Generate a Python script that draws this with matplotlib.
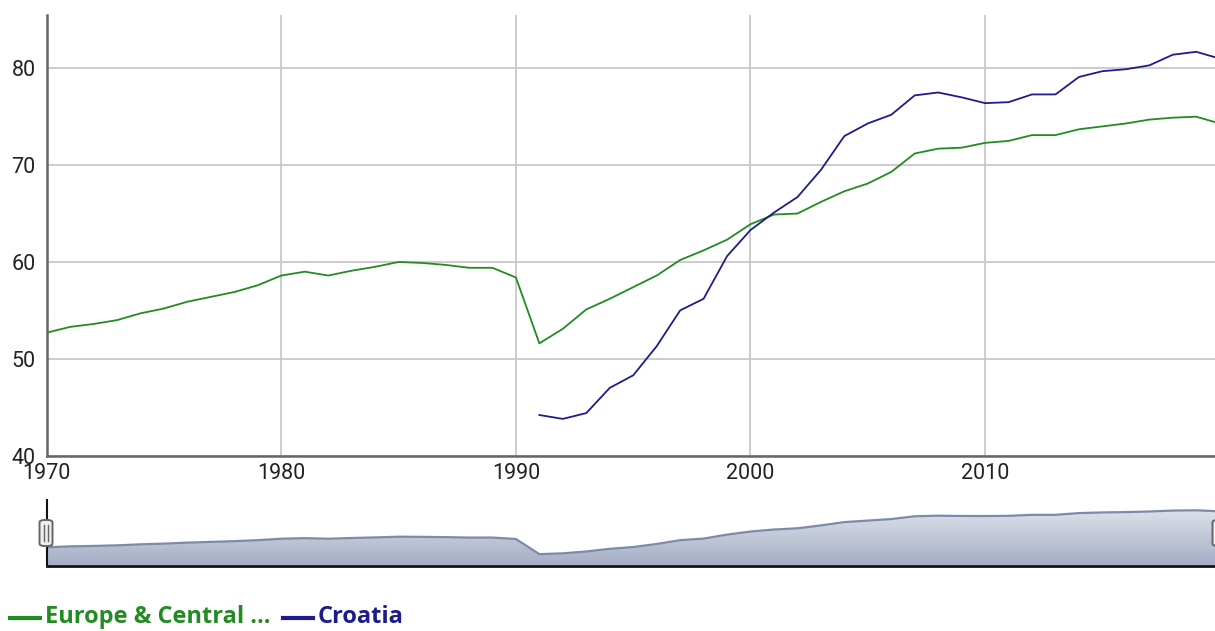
import numpy as np
import matplotlib
matplotlib.use("Agg")
import matplotlib.pyplot as plt
from matplotlib.lines import Line2D
from matplotlib.patches import FancyBboxPatch
from matplotlib.colors import LinearSegmentedColormap

# ---------------- data ----------------
years_eu = list(range(1970, 2021))
europe = [52.7, 53.3, 53.6, 54.0, 54.7, 55.2, 55.9, 56.4, 56.9, 57.6,
          58.6, 59.0, 58.6, 59.1, 59.5, 60.0, 59.9, 59.7, 59.4, 59.4,
          58.4, 51.6, 53.1, 55.1, 56.2, 57.4, 58.6, 60.2, 61.2, 62.3,
          63.9, 64.9, 65.0, 66.2, 67.3, 68.1, 69.3, 71.2, 71.7, 71.8,
          72.3, 72.5, 73.1, 73.1, 73.7, 74.0, 74.3, 74.7, 74.9, 75.0,
          74.3]
years_hr = list(range(1991, 2021))
croatia = [44.2, 43.8, 44.4, 47.0, 48.3, 51.3, 55.0, 56.2, 60.6,
           63.3, 65.1, 66.7, 69.5, 73.0, 74.3, 75.2, 77.2, 77.5, 77.0,
           76.4, 76.5, 77.3, 77.3, 79.1, 79.7, 79.9, 80.3, 81.4, 81.7,
           81.0]
x_ticks = [1970, 1980, 1990, 2000, 2010]
y_ticks = [40, 50, 60, 70, 80]
legend_labels = ["Europe & Central ...", "Croatia"]

GREEN = "#228b22"
NAVY = "#1c1c8e"

W, H = 1215, 631
fig = plt.figure(figsize=(W / 100, H / 100), dpi=100)

def fx(px):
    return px / W

def fy(py):
    return 1 - py / H

XMIN, XMAX = 1970, 2019.8
YMIN, YMAX = 40, 85.5

# ---------------- main axes ----------------
left, right, top, bottom = 46.7, 1215, 15, 455.7
ax = fig.add_axes([fx(left), fy(bottom), fx(right - left), (bottom - top) / H])
ax.plot(years_eu, europe, color=GREEN, lw=1.3, zorder=3, clip_on=True)
ax.plot(years_hr, croatia, color=NAVY, lw=1.3, zorder=3, clip_on=True)
ax.set_xlim(XMIN, XMAX)
ax.set_ylim(YMIN, YMAX)
ax.set_xticks(x_ticks)
ax.set_yticks(y_ticks)
ax.set_xticklabels([str(t) for t in x_ticks])
ax.set_yticklabels([str(t) for t in y_ticks])
ax.grid(True, color="#c8c8c8", lw=1.3, zorder=0)
ax.set_axisbelow(True)
for s in ["top", "right"]:
    ax.spines[s].set_visible(False)
for s in ["left", "bottom"]:
    ax.spines[s].set_color("#666666")
    ax.spines[s].set_linewidth(1.8)
ax.tick_params(axis="both", length=0, labelsize=15.5, labelcolor="#222222")
ax.tick_params(axis="x", pad=5)
ax.tick_params(axis="y", pad=8)
for lab in ax.get_xticklabels() + ax.get_yticklabels():
    lab.set_family(["Roboto", "DejaVu Sans"])

# ---------------- navigator ----------------
ntop, nbottom = 500, 565.5
nav = fig.add_axes([fx(left), fy(nbottom), fx(right - left), (nbottom - ntop) / H])
nav_years = np.array(years_eu, dtype=float)
eu_arr = np.array(europe, dtype=float)
hr_full = np.full(len(years_eu), np.nan)
for y, v in zip(years_hr, croatia):
    hr_full[years_eu.index(y)] = v
nav_vals = np.nanmean(np.vstack([eu_arr, hr_full]), axis=0)

nav.set_xlim(XMIN, XMAX)
nav.set_ylim(YMIN, YMAX)
poly = nav.fill_between(nav_years, YMIN, nav_vals, color="none", lw=0)
cmap = LinearSegmentedColormap.from_list("g", ["#a4aec4", "#e8eaf0"])
grad = np.linspace(0, 1, 256).reshape(-1, 1)
im = nav.imshow(grad, extent=[XMIN, 2021, YMIN, YMAX], origin="lower",
                cmap=cmap, aspect="auto", zorder=1)
paths = poly.get_paths()
im.set_clip_path(paths[0], transform=nav.transData)
nav.plot(nav_years, nav_vals, color="#7d8bab", lw=1.6, zorder=2)
nav.set_xticks([])
nav.set_yticks([])
for s in ["top", "right"]:
    nav.spines[s].set_visible(False)
nav.spines["bottom"].set_color("#111111")
nav.spines["bottom"].set_linewidth(2.0)
nav.spines["left"].set_color("#111111")
nav.spines["left"].set_linewidth(1.5)

# navigator handles
def handle(cx):
    hw, y0, y1 = 6.5, 520, 546
    p = FancyBboxPatch((fx(cx - hw), fy(y1)), fx(2 * hw), (y1 - y0) / H,
                       boxstyle="round,pad=0,rounding_size=0.004",
                       transform=fig.transFigure, facecolor="#eeeeee",
                       edgecolor="#666666", lw=1.4, zorder=10)
    fig.add_artist(p)
    for dx in (-1.8, 1.8):
        fig.add_artist(Line2D([fx(cx + dx)] * 2, [fy(525), fy(541)],
                              transform=fig.transFigure, color="#666666",
                              lw=1.0, zorder=11))

handle(46.0)
handle(1219.0)

# ---------------- legend ----------------
ly = fy(618)
fig.add_artist(Line2D([fx(10), fx(40)], [ly, ly], transform=fig.transFigure,
                      color=GREEN, lw=3))
fig.text(fx(45), fy(617), legend_labels[0], color=GREEN, fontsize=17,
         fontweight="bold", family=["Open Sans", "DejaVu Sans"], va="center",
         ha="left")
fig.add_artist(Line2D([fx(283), fx(313)], [ly, ly], transform=fig.transFigure,
                      color=NAVY, lw=3))
fig.text(fx(318), fy(617), legend_labels[1], color=NAVY, fontsize=17,
         fontweight="bold", family=["Open Sans", "DejaVu Sans"], va="center",
         ha="left")

fig.savefig("out.png", dpi=100)
